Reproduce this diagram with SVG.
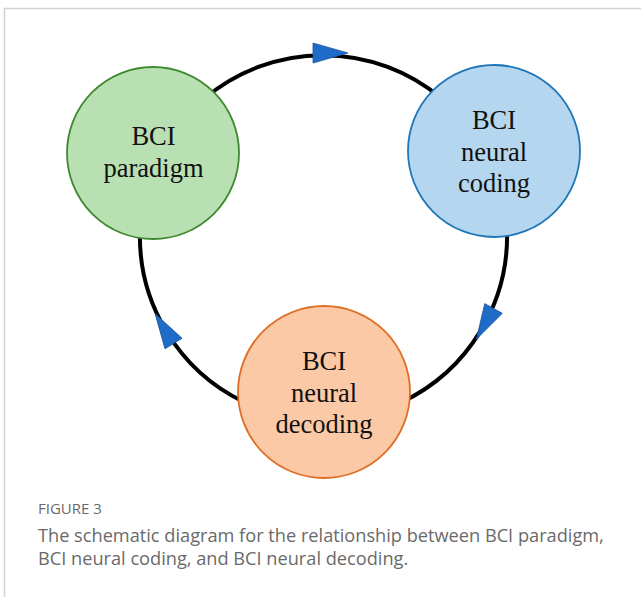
<svg xmlns="http://www.w3.org/2000/svg" width="641" height="597" viewBox="0 0 641 597">
<style>
.frame{fill:none;stroke:#d2d2d2;stroke-width:1.5}
.ring{fill:none;stroke:#000;stroke-width:4}
.arrow{fill:#1f6cc8;stroke:#1a55a0;stroke-width:0.8}
.node{stroke-width:1.8}
.lbl{font-family:"Liberation Serif","Times New Roman",serif;font-size:26.5px;fill:#111;text-anchor:middle}
.cap{font-family:"Open Sans","Liberation Sans",sans-serif;fill:#6a6a6a}
</style>
<defs>
<path id="ah" d="M0,-10 L35,0 L0,10 Z"/>
</defs>
<rect width="641" height="597" fill="#fff"/>
<path class="frame" d="M4.5,597 V8.5 H641"/>
<g id="connectors">
<path class="ring" d="M205,98 A184 184 0 0 1 441,98"/>
<path class="ring" d="M507,230 A184 184 0 0 1 402,402"/>
<path class="ring" d="M244,402 A184 184 0 0 1 140,230"/>
<use href="#ah" class="arrow" transform="translate(313,53)"/>
<use href="#ah" class="arrow" transform="translate(493.5,308.5) rotate(119.1)"/>
<use href="#ah" class="arrow" transform="translate(173.5,343.5) rotate(-121.6)"/>
</g>
<g id="paradigm">
<circle class="node" cx="153" cy="153" r="86" fill="#b9e0b2" stroke="#3d8a2e"/>
<text class="lbl" x="153.5" y="145">BCI</text>
<text class="lbl" x="153.5" y="177">paradigm</text>
</g>
<g id="coding">
<circle class="node" cx="494" cy="151" r="86" fill="#b4d7ef" stroke="#1f77b7"/>
<text class="lbl" x="494" y="129">BCI</text>
<text class="lbl" x="494" y="160.5">neural</text>
<text class="lbl" x="494" y="192">coding</text>
</g>
<g id="decoding">
<circle class="node" cx="324" cy="392" r="86" fill="#fcc9a6" stroke="#df6f27"/>
<text class="lbl" x="324" y="370">BCI</text>
<text class="lbl" x="324" y="401.5">neural</text>
<text class="lbl" x="324" y="433">decoding</text>
</g>
<text class="cap" x="38" y="514" font-size="15">FIGURE 3</text>
<text class="cap" x="38" y="542" font-size="18.2">The schematic diagram for the relationship between BCI paradigm,</text>
<text class="cap" x="38" y="565" font-size="18.2">BCI neural coding, and BCI neural decoding.</text>
</svg>
